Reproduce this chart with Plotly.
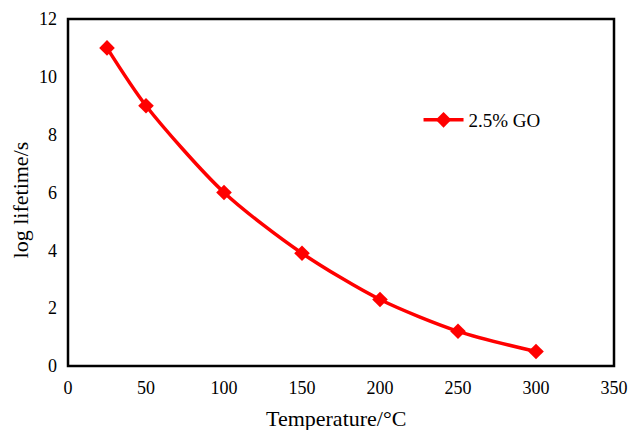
import plotly.graph_objects as go

# Lifetime of the 2.5% GO sample versus temperature
temperature = [25, 50, 100, 150, 200, 250, 300]
log_lifetime = [11.0, 9.0, 6.0, 3.9, 2.3, 1.2, 0.5]
series_name = "2.5% GO"

x_ticks = [0, 50, 100, 150, 200, 250, 300, 350]
y_ticks = [0, 2, 4, 6, 8, 10, 12]

x_title = "Temperature/°C"
y_title = "log lifetime/s"

serif = "Liberation Serif"

fig = go.Figure()
fig.add_trace(go.Scatter(
    x=temperature,
    y=log_lifetime,
    name=series_name,
    mode="lines+markers",
    line=dict(color="#ff0000", width=3.5, shape="spline", smoothing=0.8),
    marker=dict(symbol="diamond", size=12, color="#ff0000"),
    cliponaxis=False,
))

fig.update_layout(
    width=630,
    height=430,
    margin=dict(l=68, r=16, t=19, b=64),
    paper_bgcolor="white",
    plot_bgcolor="white",
    font=dict(family=serif, size=18, color="black"),
    showlegend=True,
    legend=dict(
        x=0.642, y=0.709, xanchor="left", yanchor="middle",
        bgcolor="rgba(0,0,0,0)",
        font=dict(family=serif, size=19, color="black"),
        itemwidth=40,
    ),
    xaxis=dict(
        range=[0, 350],
        tickvals=x_ticks,
        showgrid=False,
        zeroline=False,
        showline=False,
        ticks="",
        automargin=False,
        ticklabelstandoff=9,
        tickfont=dict(family=serif, size=18, color="black"),
    ),
    yaxis=dict(
        range=[0, 12],
        tickvals=y_ticks,
        showgrid=False,
        zeroline=False,
        showline=False,
        ticks="",
        automargin=False,
        ticklabelstandoff=10,
        tickfont=dict(family=serif, size=18, color="black"),
    ),
)

# Axis titles
fig.add_annotation(
    text=x_title, xref="paper", yref="paper",
    x=0.49, y=-0.15, xanchor="center", yanchor="middle",
    showarrow=False, font=dict(family=serif, size=22, color="black"),
)
fig.add_annotation(
    text=y_title, xref="paper", yref="paper",
    x=-0.088, y=0.48, xanchor="center", yanchor="middle", textangle=-90,
    showarrow=False, font=dict(family=serif, size=22, color="black"),
)

# Frame around the plotting area
fig.add_shape(
    type="rect", xref="paper", yref="paper",
    x0=0, y0=0, x1=1, y1=1,
    line=dict(color="black", width=2.5),
    layer="above",
)

fig.write_html("out.html")
